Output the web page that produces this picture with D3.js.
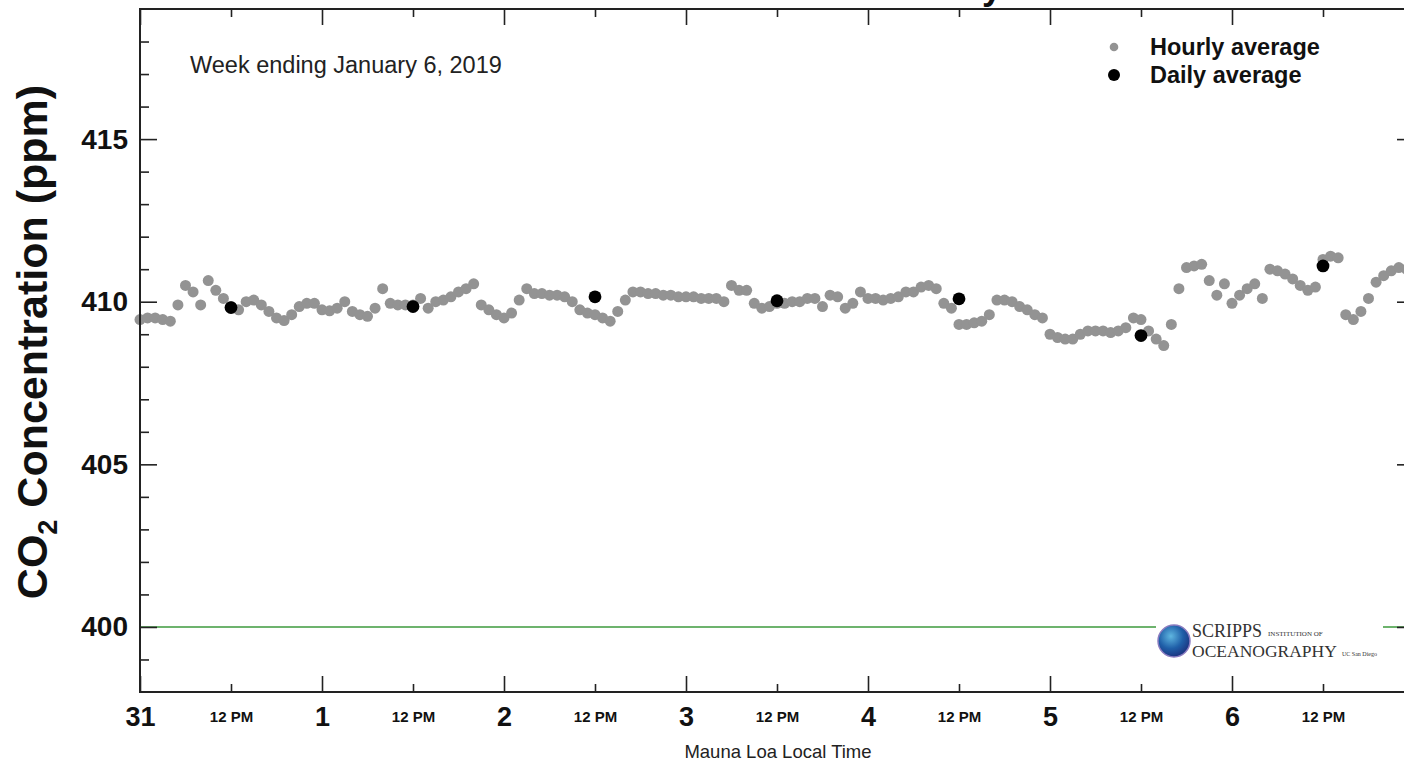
<!DOCTYPE html>
<html>
<head>
<meta charset="utf-8">
<script src="https://cdn.jsdelivr.net/npm/d3@7"></script>
<style>
  body { margin: 0; background: #fff; }
  svg { display: block; font-family: "Liberation Sans", Arial, sans-serif; }
</style>
</head>
<body>
<script>
// hourly CO2 (ppm), one value per hour from Dec 31 00:00 local time
var hourly = [
  409.45, 409.5, 409.5, 409.45, 409.4, 409.9, 410.5, 410.3, 409.9, 410.65, 410.35, 410.1,
  409.85, 409.75, 410.0, 410.05, 409.9, 409.7, 409.5, 409.42, 409.6, 409.85, 409.95, 409.95,
  409.75, 409.72, 409.8, 410.0, 409.7, 409.6, 409.55, 409.8, 410.4, 409.95, 409.9, 409.9,
  409.9, 410.1, 409.8, 410.0, 410.05, 410.15, 410.3, 410.4, 410.55, 409.9, 409.75, 409.6,
  409.5, 409.65, 410.05, 410.4, 410.25, 410.25, 410.2, 410.2, 410.15, 410.0, 409.75, 409.65,
  409.6, 409.5, 409.4, 409.7, 410.05, 410.3, 410.3, 410.25, 410.25, 410.2, 410.2, 410.15,
  410.15, 410.15, 410.1, 410.1, 410.1, 410.0, 410.5, 410.35, 410.35, 409.95, 409.8, 409.85,
  409.95, 409.95, 410.0, 410.0, 410.1, 410.1, 409.85, 410.2, 410.15, 409.8, 409.95, 410.3,
  410.1, 410.1, 410.05, 410.1, 410.15, 410.3, 410.3, 410.45, 410.5, 410.4, 409.95, 409.8,
  409.3, 409.3, 409.35, 409.4, 409.6, 410.05, 410.05, 410.0, 409.85, 409.75, 409.6, 409.5,
  409.0, 408.9, 408.85, 408.85, 409.0, 409.1, 409.1, 409.1, 409.05, 409.1, 409.2, 409.5,
  409.45, 409.1, 408.85, 408.65, 409.3, 410.4, 411.05, 411.1, 411.15, 410.65, 410.2, 410.55,
  409.95, 410.2, 410.4, 410.55, 410.1, 411.0, 410.95, 410.85, 410.7, 410.5, 410.35, 410.45,
  411.3, 411.4, 411.35, 409.6, 409.45, 409.7, 410.1, 410.6, 410.8, 410.95, 411.05, 411.0
];

// daily averages, plotted at 12 PM of each day
var daily = [409.82, 409.85, 410.15, 410.03, 410.09, 408.96, 411.1];

var dayLabels = ["31", "1", "2", "3", "4", "5", "6"];
var yMajor = [400, 405, 410, 415];

var margin = { left: 140, top: 9, right: -10, bottom: 70 };
var w = 1404, h = 762;

var svg = d3.select("body").append("svg")
  .attr("width", w)
  .attr("height", h);

var x = d3.scaleLinear().domain([0, 168]).range([margin.left, w - margin.right]);
var y = d3.scaleLinear().domain([398, 419]).range([h - margin.bottom, margin.top]);

var x0 = x.range()[0], x1 = x.range()[1], y0 = y.range()[0], y1 = y.range()[1];

// title, cut off by the top edge (only a descender shows)
svg.append("text")
  .attr("x", 1002).attr("y", -1)
  .attr("text-anchor", "end")
  .attr("font-size", "36px").attr("font-weight", "bold")
  .attr("fill", "#111")
  .text("Mauna Loa Observatory");

// 400 ppm reference line
svg.append("line")
  .attr("x1", x0).attr("x2", x1)
  .attr("y1", y(400)).attr("y2", y(400))
  .attr("stroke", "#3c9a3c").attr("stroke-width", 1.6);

// hourly points
svg.append("g").selectAll("circle")
  .data(hourly)
  .enter()
  .append("circle")
  .attr("cx", function(d, i) { return x(i); })
  .attr("cy", function(d) { return y(d); })
  .attr("r", 5.5)
  .attr("fill", "#939393");

// daily points
svg.append("g").selectAll("circle")
  .data(daily)
  .enter()
  .append("circle")
  .attr("cx", function(d, i) { return x(i * 24 + 12); })
  .attr("cy", function(d) { return y(d); })
  .attr("r", 6.4)
  .attr("fill", "#000");

// axes: ticks point inward on all four sides
var dayTicks = d3.range(0, 169, 24);
var noonTicks = d3.range(12, 168, 24);
var yMinor = d3.range(399, 419).filter(function(v) { return v % 5 != 0; });

function styleAxis(g) {
  g.select(".domain").remove();
  g.selectAll(".tick line").attr("stroke", "#222").attr("stroke-width", 1.6);
}

svg.append("g")
  .attr("transform", "translate(0," + y0 + ")")
  .call(d3.axisBottom(x).tickValues(dayTicks).tickSize(-16).tickPadding(15)
    .tickFormat(function(d, i) { return dayLabels[i] || ""; }))
  .call(styleAxis)
  .selectAll("text")
  .attr("font-size", "27px").attr("font-weight", "bold").attr("fill", "#111");

svg.append("g")
  .attr("transform", "translate(0," + y0 + ")")
  .call(d3.axisBottom(x).tickValues(noonTicks).tickSize(-8).tickPadding(19)
    .tickFormat(function() { return "12 PM"; }))
  .call(styleAxis)
  .selectAll("text")
  .attr("font-size", "15px").attr("font-weight", "bold").attr("fill", "#111");

svg.append("g")
  .attr("transform", "translate(0," + y1 + ")")
  .call(d3.axisTop(x).tickValues(dayTicks).tickSize(-16).tickFormat(""))
  .call(styleAxis);

svg.append("g")
  .attr("transform", "translate(0," + y1 + ")")
  .call(d3.axisTop(x).tickValues(noonTicks).tickSize(-8).tickFormat(""))
  .call(styleAxis);

svg.append("g")
  .attr("transform", "translate(" + x0 + ",0)")
  .call(d3.axisLeft(y).tickValues(yMajor).tickSize(-17).tickPadding(12).tickFormat(d3.format("d")))
  .call(styleAxis)
  .selectAll("text")
  .attr("font-size", "28px").attr("font-weight", "bold").attr("fill", "#111");

svg.append("g")
  .attr("transform", "translate(" + x0 + ",0)")
  .call(d3.axisLeft(y).tickValues(yMinor).tickSize(-9).tickFormat(""))
  .call(styleAxis);

svg.append("g")
  .attr("transform", "translate(" + x1 + ",0)")
  .call(d3.axisRight(y).tickValues(yMajor).tickSize(-17).tickFormat(""))
  .call(styleAxis);

svg.append("g")
  .attr("transform", "translate(" + x1 + ",0)")
  .call(d3.axisRight(y).tickValues(yMinor).tickSize(-9).tickFormat(""))
  .call(styleAxis);

// frame
svg.append("rect")
  .attr("x", x0).attr("y", y1)
  .attr("width", x1 - x0).attr("height", y0 - y1)
  .attr("fill", "none").attr("stroke", "#222").attr("stroke-width", 2);

// axis titles
svg.append("text")
  .attr("x", 778).attr("y", 758)
  .attr("text-anchor", "middle")
  .attr("font-size", "18.5px").attr("fill", "#222")
  .text("Mauna Loa Local Time");

var yl = svg.append("text")
  .attr("transform", "translate(47,342) rotate(-90)")
  .attr("text-anchor", "middle")
  .attr("font-size", "43px").attr("font-weight", "bold").attr("fill", "#111");
yl.append("tspan").text("CO");
yl.append("tspan").attr("font-size", "27px").attr("dy", 10).text("2");
yl.append("tspan").attr("dy", -10).text(" Concentration (ppm)");

svg.append("text")
  .attr("x", 190).attr("y", 73)
  .attr("font-size", "23.5px").attr("fill", "#222")
  .text("Week ending January 6, 2019");

// legend
var legend = [
  { label: "Hourly average", color: "#939393", r: 4.3 },
  { label: "Daily average", color: "#000", r: 6 }
];
var lg = svg.append("g").selectAll("g")
  .data(legend)
  .enter()
  .append("g")
  .attr("transform", function(d, i) { return "translate(1114," + (47 + i * 28) + ")"; });
lg.append("circle").attr("r", function(d) { return d.r; }).attr("fill", function(d) { return d.color; });
lg.append("text")
  .attr("x", 36).attr("y", 8)
  .attr("font-size", "23.5px").attr("font-weight", "bold").attr("fill", "#111")
  .text(function(d) { return d.label; });

// logo
var defs = svg.append("defs");
var grad = defs.append("radialGradient").attr("id", "globe").attr("cx", "40%").attr("cy", "35%").attr("r", "70%");
grad.append("stop").attr("offset", "0%").attr("stop-color", "#5fb6e0");
grad.append("stop").attr("offset", "55%").attr("stop-color", "#1f5fa8");
grad.append("stop").attr("offset", "100%").attr("stop-color", "#1b2e7a");

var logo = svg.append("g");
logo.append("rect").attr("x", 1156).attr("y", 620).attr("width", 227).attr("height", 40).attr("fill", "#fff");
logo.append("circle").attr("cx", 1174).attr("cy", 641).attr("r", 16).attr("fill", "url(#globe)")
  .attr("stroke", "#8a7cc0").attr("stroke-width", 1.5);
logo.append("text").attr("x", 1192).attr("y", 637)
  .attr("font-family", "Liberation Serif, serif").attr("font-size", "18px").attr("fill", "#333")
  .text("SCRIPPS");
logo.append("text").attr("x", 1268).attr("y", 636)
  .attr("font-family", "Liberation Serif, serif").attr("font-size", "7px").attr("fill", "#333")
  .text("INSTITUTION OF");
logo.append("text").attr("x", 1192).attr("y", 657)
  .attr("font-family", "Liberation Serif, serif").attr("font-size", "17.5px").attr("fill", "#333")
  .text("OCEANOGRAPHY");
logo.append("text").attr("x", 1342).attr("y", 656)
  .attr("font-family", "Liberation Serif, serif").attr("font-size", "6px").attr("fill", "#333")
  .text("UC San Diego");
</script>
</body>
</html>
